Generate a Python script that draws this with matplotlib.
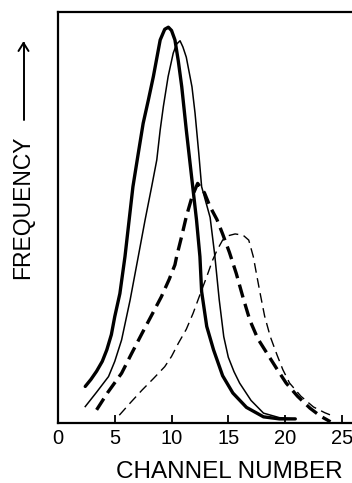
import matplotlib.pyplot as plt

plt.rcParams['font.family'] = ['Liberation Sans', 'DejaVu Sans']

# curves (channel number, relative frequency)
thick_solid_x = [2.4, 2.9, 3.4, 3.9, 4.3, 4.7, 5.0, 5.45, 5.9, 6.2, 6.6, 7.07, 7.5, 7.96, 8.4, 9.0, 9.4, 9.72, 10.0, 10.3, 10.6, 10.9, 11.3, 11.8, 12.2, 12.5, 12.65, 13.1, 13.7, 14.5, 15.4, 16.6, 18.1, 19.5, 20.9]
thick_solid_y = [8.9, 10.6, 12.6, 15.0, 17.8, 21.5, 25.9, 31.5, 40.5, 47.8, 57.5, 65.6, 72.9, 78.6, 84.3, 93.2, 95.8, 96.3, 95.5, 93.2, 88.0, 81.8, 71.3, 59.1, 49.4, 40.5, 32.0, 23.5, 17.8, 11.5, 7.3, 3.8, 1.5, 1.0, 1.0]

thin_solid_x = [2.4, 3.4, 4.45, 5.0, 5.6, 6.35, 6.9, 7.07, 7.67, 8.25, 8.7, 9.0, 9.28, 9.7, 10.15, 10.45, 10.75, 11.0, 11.3, 11.8, 12.07, 12.4, 12.65, 13.0, 13.4, 13.8, 14.2, 14.6, 15.0, 15.5, 16.0, 17.0, 18.1, 19.5, 20.8]
thin_solid_y = [4.0, 7.5, 11.3, 15.0, 20.2, 29.9, 38.0, 40.5, 49.4, 57.5, 64.0, 71.3, 77.0, 84.3, 90.0, 92.2, 93.0, 91.5, 89.0, 81.8, 75.4, 65.6, 57.5, 54.0, 50.0, 41.0, 30.0, 21.0, 16.0, 12.5, 9.7, 5.5, 2.4, 1.3, 1.0]

thick_dash_x = [3.4, 4.4, 5.6, 6.5, 7.4, 8.3, 9.1, 9.8, 10.3, 10.45, 10.9, 11.3, 11.8, 12.3, 12.9, 13.4, 14.0, 14.5, 15.1, 15.7, 16.3, 16.9, 17.6, 18.4, 19.2, 20.1, 21.1, 22.2, 23.1, 24.0]
thick_dash_y = [3.2, 7.5, 12.1, 17.0, 21.8, 26.5, 30.7, 35.0, 38.5, 40.5, 45.5, 50.2, 55.0, 58.3, 56.0, 52.6, 49.5, 46.0, 41.5, 36.4, 30.5, 25.0, 20.5, 17.0, 13.5, 9.7, 6.5, 3.6, 1.7, 0.3]

thin_dash_x = [5.4, 6.4, 7.4, 8.4, 9.4, 10.0, 10.6, 11.3, 11.9, 12.5, 13.1, 13.6, 14.0, 14.5, 14.9, 15.6, 16.3, 16.8, 17.2, 17.5, 17.8, 18.2, 18.7, 19.3, 19.8, 20.4, 21.4, 22.5, 23.5, 24.4]
thin_dash_y = [1.9, 5.0, 8.0, 10.8, 13.7, 16.2, 19.4, 22.8, 26.7, 31.2, 35.6, 39.5, 42.0, 44.5, 45.5, 46.0, 45.7, 44.5, 40.5, 36.0, 31.6, 26.0, 21.0, 16.5, 13.0, 9.7, 6.5, 3.9, 2.5, 1.5]

xticks = [0, 5, 10, 15, 20, 25]

W, H = 352, 483
fig = plt.figure(figsize=(W / 100, H / 100), dpi=100)
# right edge of the frame runs off the picture, as in the scan
ax = fig.add_axes([58 / W, 60 / H, 302 / W, 411 / H])

ax.plot(thick_solid_x, thick_solid_y, '-', color='black', linewidth=2.4, solid_capstyle='round')
ax.plot(thin_solid_x, thin_solid_y, '-', color='black', linewidth=1.1)
ax.plot(thick_dash_x, thick_dash_y, '-', color='black', linewidth=2.4, dashes=(4, 2))
ax.plot(thin_dash_x, thin_dash_y, '-', color='black', linewidth=1.0, dashes=(7, 4))

ax.set_xlim(0, 26.6)
ax.set_ylim(0, 100)
ax.set_xticks(xticks)
ax.set_xticklabels([str(t) for t in xticks], fontsize=14.5)
ax.set_yticks([])
ax.tick_params(axis='x', direction='in', length=5.5, width=1.3, pad=4)
for s in ax.spines.values():
    s.set_linewidth(1.6)
ax.spines['right'].set_visible(False)

fig.text(229 / W, 1 - 478 / H, 'CHANNEL NUMBER', fontsize=17.5,
         ha='center', va='baseline')
fig.text(23 / W, 1 - 207 / H, 'FREQUENCY', fontsize=16.5,
         rotation=90, ha='center', va='center')

# arrow after the y label: shaft plus open head
ax_x = 23.5 / W
tip = 1 - 43 / H
for xs, ys in [([ax_x, ax_x], [1 - 120 / H, tip]),
               ([ax_x - 5 / W, ax_x], [tip - 8 / H, tip]),
               ([ax_x + 5 / W, ax_x], [tip - 8 / H, tip])]:
    fig.add_artist(plt.Line2D(xs, ys, color='black', linewidth=1.4,
                              solid_capstyle='round'))

plt.savefig('out.png', dpi=100)
